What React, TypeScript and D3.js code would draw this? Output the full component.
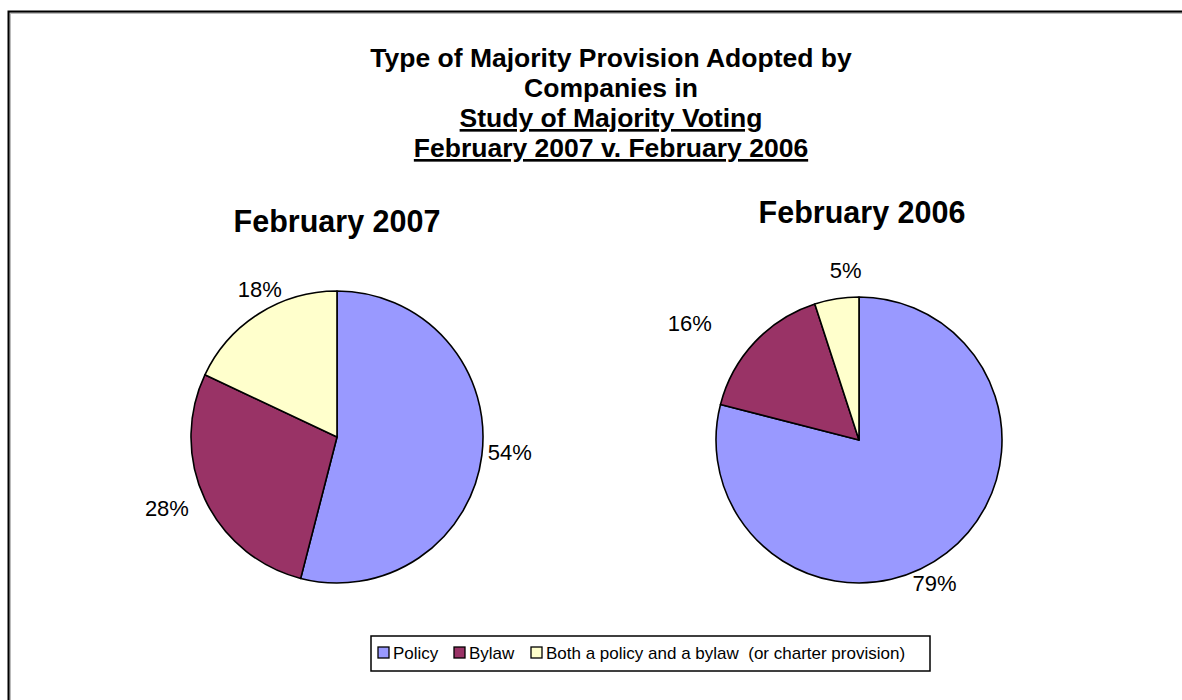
import React from "react";
import * as d3 from "d3";

const categories = ["Policy", "Bylaw", "Both a policy and a bylaw  (or charter provision)"];
const colors = ["#9999FF", "#993366", "#FFFFCC"];
const values2007 = [54, 28, 18];
const values2006 = [79, 16, 5];
const titleLines = [
  "Type of Majority Provision Adopted by",
  "Companies in",
  "Study of Majority Voting",
  "February 2007 v. February 2006",
];
const underlined = [false, false, true, true];

const FONT = "'Liberation Sans', Arial, sans-serif";

function Pie({ cx, cy, r, values, title, tx, ty, nudges }: any) {
  const pie = d3.pie<number>().sort(null).value((d) => d);
  const arcs = pie(values);
  const arc = d3.arc<d3.PieArcDatum<number>>().innerRadius(0).outerRadius(r);
  return (
    <g>
      <text x={tx} y={ty} textAnchor="middle" fontFamily={FONT} fontWeight="bold" fontSize={30.5}>
        {title}
      </text>
      <g transform={`translate(${cx},${cy})`}>
        {arcs.map((a, i) => (
          <path key={i} d={arc(a) || ""} fill={colors[i]} stroke="#000" strokeWidth={1.6} strokeLinejoin="round" />
        ))}
        {arcs.map((a, i) => {
          const mid = (a.startAngle + a.endAngle) / 2;
          const x = Math.sin(mid) * r + nudges[i][0];
          const y = -Math.cos(mid) * r + nudges[i][1];
          return (
            <text key={"l" + i} x={x} y={y} dy="0.35em" textAnchor="middle" fontFamily={FONT} fontSize={22}>
              {values[i]}%
            </text>
          );
        })}
      </g>
    </g>
  );
}

export default function App() {
  const legendX = 371;
  const legendY = 636;
  const items = [
    { x: 378, tx: 393 },
    { x: 454, tx: 469 },
    { x: 531, tx: 546 },
  ];
  return (
    <svg width={1182} height={700} style={{ position: "absolute", left: 0, top: 0, background: "#fff" }}>
      <rect x={0} y={0} width={1182} height={700} fill="#fff" />
      <rect x={10} y={13} width={1200} height={720} fill="none" stroke="#bbb" strokeWidth={2} />
      <rect x={8.5} y={11.5} width={1200} height={720} fill="none" stroke="#000" strokeWidth={2} />
      {titleLines.map((t, i) => (
        <text
          key={i}
          x={611}
          y={67 + i * 30}
          textAnchor="middle"
          fontFamily={FONT}
          fontWeight="bold"
          fontSize={26.5}
          textDecoration={underlined[i] ? "underline" : undefined}
        >
          {t}
        </text>
      ))}
      <Pie cx={337} cy={437} r={146} values={values2007} title="February 2007" tx={337} ty={232}
        nudges={[[28, -3], [-38, 9], [1, -24]]} />
      <Pie cx={859} cy={440} r={143} values={values2006} title="February 2006" tx={862} ty={223}
        nudges={[[-12, 30], [-65, -19], [9, -28]]} />
      <rect x={legendX} y={legendY} width={559} height={35} fill="#fff" stroke="#000" strokeWidth={1.5} />
      {categories.map((c, i) => (
        <g key={i}>
          <rect x={items[i].x} y={647} width={11} height={11} fill={colors[i]} stroke="#000" strokeWidth={1.3} />
          <text x={items[i].tx} y={659} fontFamily={FONT} fontSize={17} style={{ whiteSpace: "pre" }}>
            {c}
          </text>
        </g>
      ))}
    </svg>
  );
}
